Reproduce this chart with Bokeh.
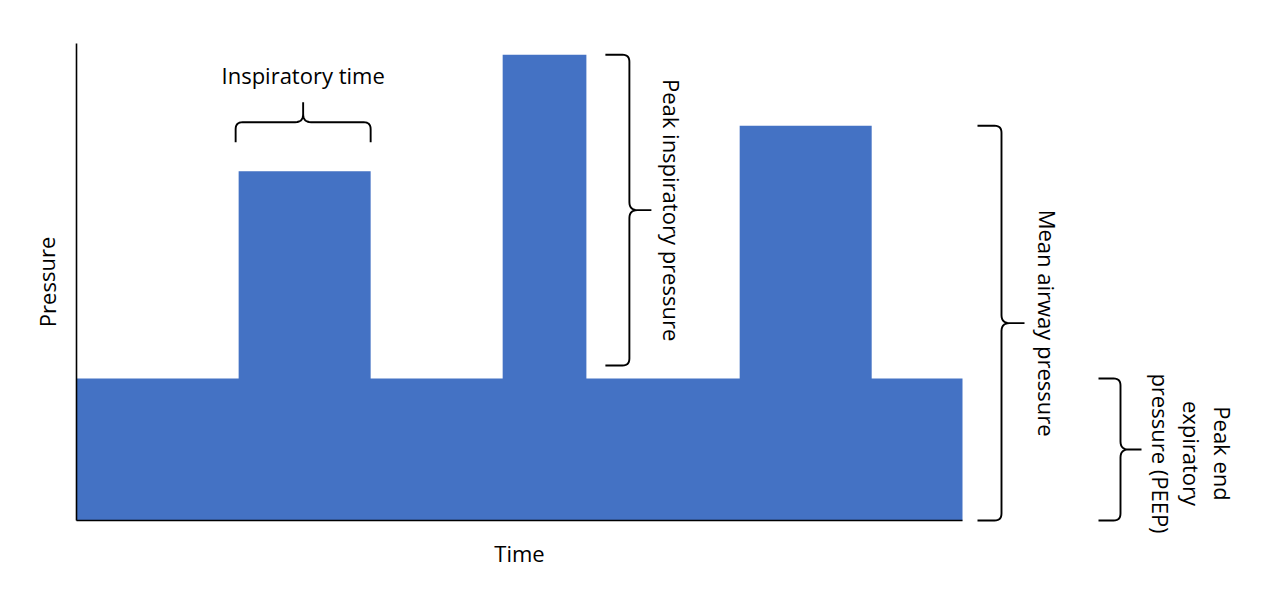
import numpy as np
from bokeh.plotting import figure
from bokeh.models import Range1d, ColumnDataSource
from bokeh.core.properties import value
from bokeh.embed import file_html
from bokeh.resources import INLINE

# ---- data (schematic ventilator pressure trace) ----
time_edges = [0.0, 3.66, 6.64, 9.62, 11.51, 14.97, 17.95, 20.0]
pressure_levels = [5.0, 12.3, 5.0, 16.4, 5.0, 13.9, 5.0]
peep = 5.0
axis_time_max = 20.0
axis_pressure_max = 16.8

x_label = "Time"
y_label = "Pressure"
insp_time_label = "Inspiratory time"
pip_label = "Peak inspiratory pressure"
map_label = "Mean airway pressure"
peep_lines = ["Peak end", "expiratory", "pressure (PEEP)"]

# ---- layout ----
W, H = 1264, 582
X_PX = 44.3   # pixels per time unit
Y_PX = 28.4   # pixels per pressure unit
LEFT_PX, BOTTOM_PX = 76, H - 520


def dx(px):
    return px / X_PX


def dy(px):
    return px / Y_PX


p = figure(width=W, height=H, output_backend="svg", toolbar_location=None,
           x_range=Range1d(-LEFT_PX / X_PX, (W - LEFT_PX) / X_PX),
           y_range=Range1d(-BOTTOM_PX / Y_PX, (H - BOTTOM_PX) / Y_PX),
           min_border=0, x_axis_type=None, y_axis_type=None)
p.outline_line_color = None
p.grid.visible = False
p.background_fill_color = "white"
p.border_fill_color = "white"

BLUE = "#4472C4"
FONT = value("Open Sans")
FS = "22px"

# stepped pressure area
p.varea_step(x=time_edges, y1=[0] * len(time_edges),
             y2=pressure_levels + [pressure_levels[-1]],
             step_mode="after", fill_color=BLUE)

# axes lines
p.segment(x0=[0, 0], y0=[0, 0], x1=[0, axis_time_max], y1=[axis_pressure_max, 0],
          line_color="black", line_width=1.6)


def quad_curve(p0, c, p1, n=8):
    t = np.linspace(0, 1, n)
    xs = (1 - t) ** 2 * p0[0] + 2 * (1 - t) * t * c[0] + t ** 2 * p1[0]
    ys = (1 - t) ** 2 * p0[1] + 2 * (1 - t) * t * c[1] + t ** 2 * p1[1]
    return list(xs), list(ys)


def brace_px(lo, hi, arm, tip, r=7, r2=8):
    """Brace in local px coords: u along the span, v across it
    (v=0 at the ends, v=arm at the spine, v=arm+tip at the tip)."""
    mid = (lo + hi) / 2
    us, vs = [hi], [0.0]

    def add(seg_v, seg_u):
        vs.extend(seg_v)
        us.extend(seg_u)
    add(*quad_curve((arm - r, hi), (arm, hi), (arm, hi - r)))
    add(*quad_curve((arm, mid + r2), (arm, mid), (arm + r2, mid)))
    add([arm + tip], [mid])
    add(*quad_curve((arm + r2, mid), (arm, mid), (arm, mid - r2)))
    add(*quad_curve((arm, lo + r), (arm, lo), (arm - r, lo)))
    add([0.0], [lo])
    return us, vs


def vbrace(t_end, p_lo, p_hi, arm, tip):
    u, v = brace_px(p_lo * Y_PX, p_hi * Y_PX, arm, tip)
    xs = [t_end + dx(a) for a in v]
    ys = [b / Y_PX for b in u]
    p.line(xs, ys, line_color="black", line_width=1.9)
    return t_end + dx(arm + tip), (p_lo + p_hi) / 2


def hbrace(p_end, t_lo, t_hi, arm, tip):
    u, v = brace_px(t_lo * X_PX, t_hi * X_PX, arm, tip)
    xs = [a / X_PX for a in u]
    ys = [p_end + dy(b) for b in v]
    p.line(xs, ys, line_color="black", line_width=1.9)
    return (t_lo + t_hi) / 2, p_end + dy(arm + tip)


texts = dict(x=[], y=[], text=[], angle=[])


def add_text(x, y, s, angle=0.0):
    texts["x"].append(x)
    texts["y"].append(y)
    texts["text"].append(s)
    texts["angle"].append(angle)


# inspiratory time brace (over first breath)
tx, ty = hbrace(pressure_levels[1] + dy(29), time_edges[1] - dx(3), time_edges[2], 20, 20)
add_text(tx, ty + dy(27), insp_time_label)

# peak inspiratory pressure brace (beside second breath)
tx, ty = vbrace(time_edges[4] + dx(19), peep + dy(13), pressure_levels[3], 24, 22)
add_text(tx + dx(21), ty, pip_label, -np.pi / 2)

# mean airway pressure brace
tx, ty = vbrace(time_edges[-1] + dx(15), 0, pressure_levels[5], 24, 23)
add_text(tx + dx(23), ty, map_label, -np.pi / 2)

# PEEP brace
tx, ty = vbrace(time_edges[-1] + dx(136), 0, peep, 22, 21)
for i, s in enumerate(reversed(peep_lines)):
    add_text(tx + dx(19 + 31 * i), ty - dy(4), s, -np.pi / 2)

# axis titles
add_text(-dx(30), axis_pressure_max / 2, y_label, np.pi / 2)
add_text(axis_time_max / 2, -dy(32), x_label)

p.text(x="x", y="y", text="text", angle="angle", source=ColumnDataSource(texts),
       text_font=FONT, text_font_size=FS, text_color="black",
       text_align="center", text_baseline="middle")

open("out.html", "w").write(file_html(p, INLINE))
